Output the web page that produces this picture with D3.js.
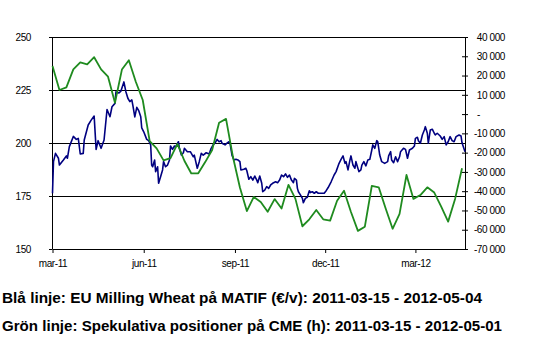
<!DOCTYPE html>
<html><head><meta charset="utf-8">
<script src="https://cdn.jsdelivr.net/npm/d3@7"></script>
<style>body{margin:0;background:#fff}svg{display:block}</style>
</head><body>
<script>
const startDate = "2011-03-15";
const endDate = "2012-05-04";
// Blue: EU Milling Wheat (EUR/t), day offset from start date and value
const blueDay = [0,1,3,6,7,11,14,15,17,21,24,26,28,31,32,36,39,42,44,46,49,52,55,58,60,63,64,67,69,72,74,76,78,80,81,83,85,87,89,90,92,95,97,99,100,101,103,104,106,107,109,111,112,114,116,118,119,121,123,124,127,128,130,132,133,136,139,142,143,146,148,150,152,155,158,160,162,164,166,168,170,171,174,176,178,179,181,183,185,187,189,190,193,195,196,198,200,202,204,206,207,209,211,212,214,216,218,220,222,225,227,229,231,233,235,237,239,241,243,244,246,247,248,250,252,253,255,257,259,260,262,264,266,268,271,274,276,278,281,284,286,289,291,293,295,296,298,300,301,303,305,306,309,311,312,314,316,318,320,322,323,325,327,328,330,332,335,338,339,341,342,344,346,348,350,351,354,356,358,360,363,365,366,368,369,371,373,375,376,378,379,381,383,385,386,388,391,393,395,397,399,401,403,405,407,410,412,413,416];
const blueVal = [176.3,191.2,195.1,192.8,189.6,192.0,193.9,192.8,198.3,203.1,201.7,202.2,194.8,195.1,201.4,208.5,210.8,212.7,197.0,201.1,197.5,201.4,215.8,212.4,217.1,218.7,224.1,223.6,224.5,228.8,224.2,221.1,219.5,220.3,217.9,212.3,216.8,215.2,212.4,207.1,205.3,201.7,201.1,199.1,189.6,188.8,192.0,186.5,188.8,181.0,184.1,187.3,191.2,188.8,189.6,192.0,198.6,197.0,198.6,198.0,200.6,197.5,194.3,195.4,197.5,195.9,195.9,193.5,194.3,188.1,191.2,195.1,194.3,195.4,194.8,197.5,199.1,200.1,201.7,200.6,201.1,199.9,199.1,199.9,200.6,199.9,194.3,192.0,192.3,192.0,191.2,187.3,187.6,188.1,186.9,182.9,184.1,182.5,184.4,182.5,181.3,184.4,181.0,177.0,177.8,179.4,178.6,180.2,181.0,181.7,181.3,182.5,184.9,184.1,185.4,183.8,184.9,182.5,181.3,183.3,182.5,178.6,177.0,175.5,173.9,171.8,173.9,174.4,177.5,176.6,177.0,176.3,177.0,176.3,176.3,176.3,177.5,179.0,181.7,184.9,186.5,190.4,192.3,193.9,190.4,191.2,187.3,192.0,193.9,189.6,188.1,191.2,186.5,187.3,189.6,191.2,189.2,192.0,192.3,196.7,199.1,197.5,201.1,200.6,194.3,191.2,190.4,191.2,193.9,195.9,192.0,190.7,193.5,191.2,193.5,195.9,197.5,197.0,192.8,196.7,197.5,198.6,202.2,202.7,201.1,199.9,203.8,206.1,207.7,204.6,199.9,206.1,206.5,204.6,203.8,204.6,203.3,201.7,203.0,199.1,200.6,203.0,201.1,200.6,203.0,203.8,203.3,200.1,195.9];
// Green: speculative positions on CME (contracts), weekly from start date
const greenVal = [25000,12500,13900,23200,26800,25800,29500,23200,19400,5900,23100,27900,16800,7300,-14000,-17800,-24000,-22900,-15500,-24200,-30800,-30700,-24900,-18600,-4500,-2500,-22300,-38100,-50300,-43000,-45600,-50700,-44100,-49000,-36700,-44000,-58200,-54600,-49800,-54600,-55300,-45000,-39800,-50800,-60600,-58400,-37300,-38000,-49000,-59500,-51800,-31600,-44000,-42000,-38000,-40700,-48000,-55800,-44000,-28100];
const leftTicks = [150,175,200,225,250];
const gridTicks = [175,200,225,250];
const rightTicks = [-70000,-60000,-50000,-40000,-30000,-20000,-10000,0,10000,20000,30000,40000];
const xTickDates = ["2011-03-15","2011-06-15","2011-09-15","2011-12-15","2012-03-15"];
const xTickLabels = ["mar-11","jun-11","sep-11","dec-11","mar-12"];
const captions = [
  "Blå linje: EU Milling Wheat på MATIF (€/v): 2011-03-15 - 2012-05-04",
  "Grön linje: Spekulativa positioner på CME (h): 2011-03-15 - 2012-05-01"
];

const W = 537, H = 357;
const L = 52, R = 465, T = 37, B = 249;
const parse = d3.timeParse("%Y-%m-%d");
const t0 = parse(startDate), t1 = parse(endDate);

const svg = d3.select("body").append("svg").attr("width", W).attr("height", H);

const x = d3.scaleTime().domain([t0, t1]).range([L + 0.5, R]);
const yL = d3.scaleLinear().domain([150, 250]).range([B, T]);
const yR = d3.scaleLinear().domain([-70000, 40000]).range([B, T]);

const axisFont = "'Liberation Sans', Arial, sans-serif";

// gridlines
svg.append("g").selectAll("line").data(gridTicks).join("line")
  .attr("x1", L).attr("x2", R)
  .attr("y1", d => Math.round(yL(d)) + 0.5).attr("y2", d => Math.round(yL(d)) + 0.5)
  .attr("stroke", "#000").attr("stroke-width", 1);

// left axis
const gl = svg.append("g").attr("transform", `translate(${L},0)`)
  .call(d3.axisLeft(yL).tickValues(leftTicks).tickSizeInner(3).tickSizeOuter(0).tickPadding(18));
// right axis
const fmtLocale = d3.formatLocale({decimal: ",", thousands: " ", grouping: [3], currency: ["", ""], minus: "-"});
const fmt = fmtLocale.format(",d");
const gr = svg.append("g").attr("transform", `translate(${R},0)`)
  .call(d3.axisRight(yR).tickValues(rightTicks).tickSizeInner(3).tickSizeOuter(0).tickPadding(0)
    .tickFormat(d => d === 0 ? "-" : fmt(d)));
gr.selectAll(".tick line").attr("x1", -3).attr("x2", 3);
gr.selectAll(".tick text").attr("text-anchor", d => d === 0 ? "start" : "end")
  .attr("x", d => d === 0 ? 12 : 40);
// bottom axis
const gb = svg.append("g").attr("transform", `translate(0,${B})`)
  .call(d3.axisBottom(x).tickValues(xTickDates.map(parse)).tickSizeInner(4).tickSizeOuter(0).tickPadding(7)
    .tickFormat((d, i) => xTickLabels[i]));

[gl, gr, gb].forEach(g => {
  g.selectAll("path.domain").attr("stroke", "#000");
  g.selectAll(".tick line").attr("stroke", "#000");
  g.selectAll("text").attr("fill", "#000").style("font-family", axisFont).style("font-size", "10px")
    .style("letter-spacing", "-0.4px");
});
gl.selectAll(".tick text").attr("dy", "0.36em");

// lines
const blueData = d3.zip(blueDay, blueVal).map(([d, v]) => ({date: d3.timeDay.offset(t0, d), v}));
const greenData = greenVal.map((v, k) => ({date: d3.timeDay.offset(t0, 7 * k), v}));

svg.append("path").datum(blueData)
  .attr("fill", "none").attr("stroke", "#000080").attr("stroke-width", 1.6).attr("stroke-linejoin", "round")
  .attr("d", d3.line().x(d => x(d.date)).y(d => yL(d.v)));
svg.append("path").datum(greenData)
  .attr("fill", "none").attr("stroke", "#1f8b1f").attr("stroke-width", 1.8).attr("stroke-linejoin", "round")
  .attr("d", d3.line().x(d => x(d.date)).y(d => yR(d.v)));

// captions
const capY = [302.5, 330.8];
const capLen = [480, 500];
svg.append("g").selectAll("text").data(captions).join("text")
  .attr("x", 2).attr("y", (d, i) => capY[i])
  .attr("textLength", (d, i) => capLen[i]).attr("lengthAdjust", "spacingAndGlyphs")
  .style("font-family", "'Liberation Sans Narrow','Arial Narrow','Liberation Sans',Arial,sans-serif")
  .style("font-weight", "bold").style("font-size", "15px").attr("fill", "#000")
  .text(d => d);
</script>
</body></html>
